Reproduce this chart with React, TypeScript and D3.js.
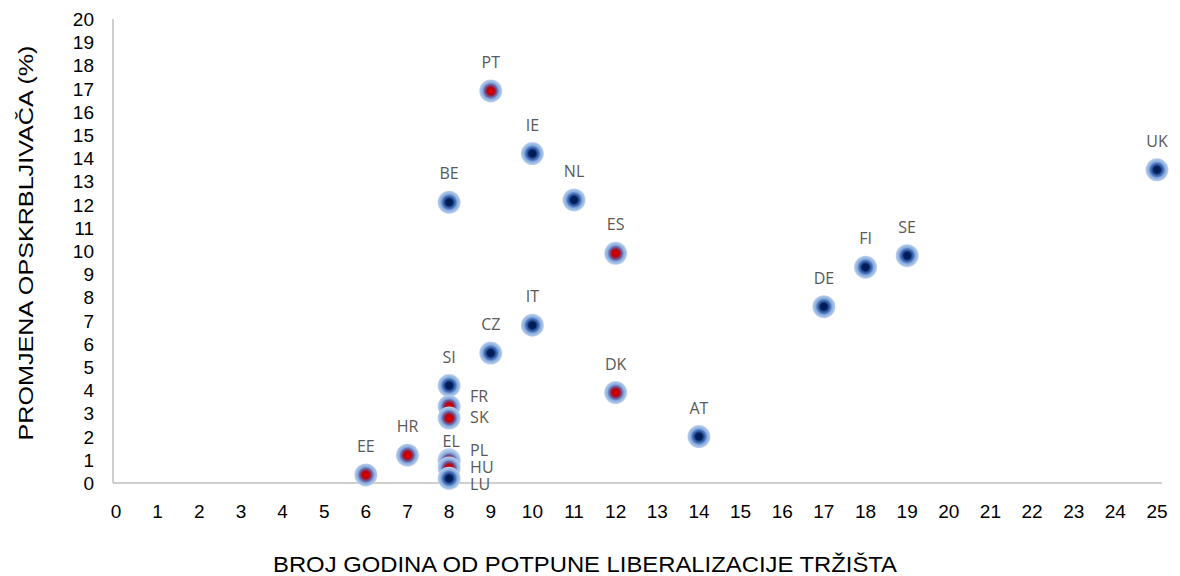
import React from "react";
import * as d3 from "d3";

const countries = ["PT","IE","UK","BE","NL","ES","SE","FI","DE","IT","CZ","SI","DK","FR","SK","AT","HR","EL","PL","HU","LU","EE"];
const years = [9,10,25,8,11,12,19,18,17,10,9,8,12,8,8,14,7,8,8,8,8,6];
const change = [16.9,14.2,13.5,12.1,12.2,9.9,9.8,9.3,7.6,6.8,5.6,4.2,3.9,3.3,2.8,2.0,1.2,1.0,0.95,0.65,0.2,0.35];
const redCentre = ["PT","ES","DK","FR","SK","HR","EL","PL","HU","EE"];
const xTicks = d3.range(0, 26);
const yTicks = d3.range(0, 21);

// label placement (style): right-side labels and special offsets
const labelOffset: Record<string, [number, number, string]> = {
  FR: [21, -9, "start"],
  SK: [21, 0, "start"],
  PL: [21, -10, "start"],
  HU: [21, 0, "start"],
  LU: [21, 7, "start"],
  EL: [2, -18, "middle"],
};

export default function App() {
  const W = 1180, H = 576;
  const x = d3.scaleLinear().domain([0, 25]).range([116, 1157]);
  const y = d3.scaleLinear().domain([0, 20]).range([483, 19]);
  const axisColor = "#bfbfbf";
  const tickFont = "'Liberation Sans', Arial, sans-serif";
  const order = countries.map((c, i) => i).sort((a, b) => change[b] - change[a]);
  return (
    <svg width={W} height={H} style={{ position: "absolute", left: 0, top: 0, background: "#fff" }}>
      <defs>
        <radialGradient id="gBlue" cx="50%" cy="50%" r="50%">
          <stop offset="0%" stopColor="#001a50" />
          <stop offset="30%" stopColor="#002060" />
          <stop offset="42%" stopColor="#2a4f94" />
          <stop offset="58%" stopColor="#4f78c0" />
          <stop offset="72%" stopColor="#8aaede" />
          <stop offset="90%" stopColor="#a9c3e8" />
          <stop offset="100%" stopColor="#c6d6ee" />
        </radialGradient>
        <radialGradient id="gRed" cx="50%" cy="50%" r="50%">
          <stop offset="0%" stopColor="#e00000" />
          <stop offset="30%" stopColor="#c00000" />
          <stop offset="42%" stopColor="#8a2e5c" />
          <stop offset="58%" stopColor="#6a6fb0" />
          <stop offset="72%" stopColor="#8aaede" />
          <stop offset="90%" stopColor="#a9c3e8" />
          <stop offset="100%" stopColor="#c6d6ee" />
        </radialGradient>
      </defs>
      <line x1={113} x2={113} y1={19} y2={483} stroke={axisColor} strokeWidth={1.5} />
      <line x1={113} x2={1162} y1={483} y2={483} stroke={axisColor} strokeWidth={1.5} />
      {yTicks.map(t => (
        <text key={"y" + t} x={94} y={y(t) + 7} textAnchor="end" fontFamily={tickFont} fontSize={19} fill="#000">{t}</text>
      ))}
      {xTicks.map(t => (
        <text key={"x" + t} x={x(t)} y={518} textAnchor="middle" fontFamily={tickFont} fontSize={19} fill="#000">{t}</text>
      ))}
      <text x={585} y={572} textAnchor="middle" fontFamily={tickFont} fontSize={22} textLength={624} lengthAdjust="spacingAndGlyphs" fill="#000">BROJ GODINA OD POTPUNE  LIBERALIZACIJE TRŽIŠTA</text>
      <text transform="translate(33,243) rotate(-90)" textAnchor="middle" fontFamily={tickFont} fontSize={21} textLength={395} lengthAdjust="spacingAndGlyphs" fill="#000">PROMJENA OPSKRBLJIVAČA (%)</text>
      {order.map(i => {
        const c = countries[i];
        const red = redCentre.includes(c);
        return (
          <circle key={c} cx={x(years[i])} cy={y(change[i])} r={11.5} fill={red ? "url(#gRed)" : "url(#gBlue)"} />
        );
      })}
      {countries.map((c, i) => {
        const off = labelOffset[c];
        const px = x(years[i]), py = y(change[i]);
        const lx = off ? px + off[0] : px;
        const ly = off ? py + off[1] + 5 : py - 23;
        return (
          <text key={"l" + c} x={lx} y={ly} textAnchor={off ? off[2] : "middle"} fontFamily="'Open Sans', sans-serif" fontSize={16} fill="#595959">{c}</text>
        );
      })}
    </svg>
  );
}
